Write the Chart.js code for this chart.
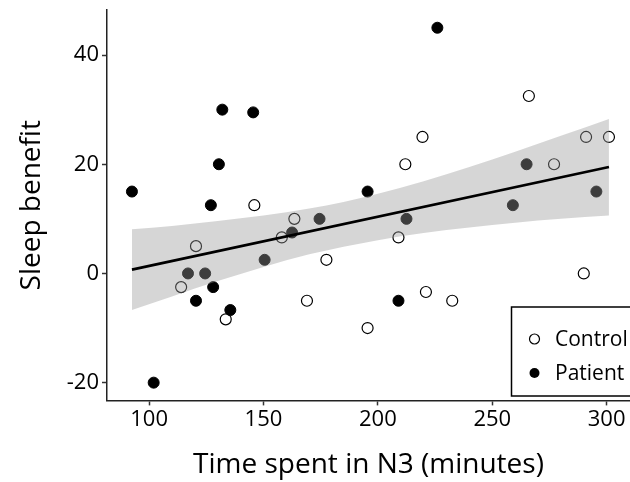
<!DOCTYPE html>
<html>
<head>
<meta charset="utf-8">
<script src="https://cdn.jsdelivr.net/npm/chart.js@4.4.1/dist/chart.umd.min.js"></script>
<style>
  html, body { margin: 0; padding: 0; background: #ffffff; overflow: hidden; }
  #wrap { position: relative; width: 630px; height: 482px; }
</style>
</head>
<body>
<div id="wrap"><canvas id="c" width="630" height="482"></canvas></div>
<script>
// ---- data ----
const controlX = [120.5, 146, 114, 133.5, 163.5, 158, 209, 177.5, 169, 221, 232.5, 195.5, 290, 219.5, 212, 266, 291, 301, 277];
const controlY = [5, 12.5, -2.5, -8.4, 10, 6.6, 6.6, 2.5, -5, -3.4, -5, -10, 0, 25, 20, 32.5, 25, 25, 20];
const patientX = [92.5, 132, 145.5, 130.5, 226, 195.5, 265, 295.5, 127, 150.5, 117, 124.5, 128, 120.5, 135.5, 102, 174.5, 162.5, 212.5, 209, 259];
const patientY = [15, 30, 29.5, 20, 45, 15, 20, 15, 12.5, 2.5, 0, 0, -2.5, -5, -6.7, -20, 10, 7.5, 10, -5, 12.5];
const fitX = [92.5, 301];
const fitY = [0.7, 19.5];
const bandX = [92.5, 110, 130, 150, 170, 185, 200, 220, 240, 260, 280, 301];
const bandLow = [-6.7, -4.2, -1.4, 1.2, 3.5, 4.9, 6.1, 7.4, 8.4, 9.3, 10.0, 10.6];
const bandHigh = [8.1, 8.7, 9.6, 10.6, 11.9, 13.1, 14.6, 16.9, 19.5, 22.3, 25.2, 28.3];
const xTicks = [100, 150, 200, 250, 300];
const yTicks = [-20, 0, 20, 40];
const seriesNames = ['Control', 'Patient'];

const FONT = "'Open Sans', 'Noto Sans', sans-serif";

const pts = (xs, ys) => xs.map((x, i) => ({ x: x, y: ys[i] }));

// stretch the plot panel to the right edge of the canvas, as in the reference
const fullWidthPlugin = {
  id: 'fullWidth',
  afterLayout(chart) {
    const a = chart.chartArea, sx = chart.scales.x;
    a.right = chart.width;
    a.width = a.right - a.left;
    sx.right = chart.width;
    sx.width = sx.right - sx.left;
    sx.configure();
  }
};

const legendPlugin = {
  id: 'boxLegend',
  afterDraw(chart) {
    const ctx = chart.ctx;
    ctx.save();
    ctx.strokeStyle = '#000';
    ctx.lineWidth = 1.5;
    ctx.strokeRect(511.5, 307, 130, 89);
    const rows = [339, 373];
    ctx.font = "21px " + FONT;
    ctx.textBaseline = 'middle';
    ctx.textAlign = 'left';
    rows.forEach((y, i) => {
      ctx.beginPath();
      ctx.arc(534.5, y, 5, 0, Math.PI * 2);
      if (i === 0) { ctx.lineWidth = 1.2; ctx.strokeStyle = '#000'; ctx.stroke(); }
      else { ctx.fillStyle = '#000'; ctx.fill(); }
      ctx.fillStyle = '#000';
      ctx.fillText(seriesNames[i], 555, y + 1);
    });
    ctx.restore();
  }
};

new Chart(document.getElementById('c'), {
  type: 'scatter',
  data: {
    datasets: [
      {
        label: seriesNames[0],
        data: pts(controlX, controlY),
        pointRadius: 5.5,
        pointBackgroundColor: 'rgba(0,0,0,0)',
        pointBorderColor: '#000',
        pointBorderWidth: 1.2,
        order: 2
      },
      {
        label: seriesNames[1],
        data: pts(patientX, patientY),
        pointRadius: 5.5,
        pointBackgroundColor: '#000',
        pointBorderColor: '#000',
        pointBorderWidth: 1,
        order: 2
      },
      {
        type: 'line',
        label: 'lower',
        data: pts(bandX, bandLow),
        borderWidth: 0,
        borderColor: 'rgba(0,0,0,0)',
        pointRadius: 0,
        fill: false,
        cubicInterpolationMode: 'monotone',
        order: 1
      },
      {
        type: 'line',
        label: 'upper',
        data: pts(bandX, bandHigh),
        borderWidth: 0,
        borderColor: 'rgba(0,0,0,0)',
        backgroundColor: 'rgba(153,153,153,0.4)',
        pointRadius: 0,
        fill: '-1',
        cubicInterpolationMode: 'monotone',
        order: 1
      },
      {
        type: 'line',
        label: 'fit',
        data: pts(fitX, fitY),
        borderWidth: 2.6,
        borderColor: '#000',
        pointRadius: 0,
        fill: false,
        order: 0
      }
    ]
  },
  options: {
    responsive: false,
    animation: false,
    events: [],
    layout: { padding: { top: 10, right: 0, left: 0, bottom: 0 } },
    plugins: {
      legend: { display: false },
      tooltip: { enabled: false }
    },
    scales: {
      x: {
        type: 'linear',
        min: 81.6,
        max: 310.2,
        afterBuildTicks: (s) => { s.ticks = xTicks.map(v => ({ value: v })); },
        afterFit: (s) => { s.height = 81.6; s.paddingLeft = 0; s.paddingRight = 0; },
        grid: { drawOnChartArea: false, tickLength: 5, tickColor: '#333', tickWidth: 1.5 },
        border: { color: '#222', width: 1.5 },
        ticks: { color: '#000', font: { family: FONT, size: 22 }, padding: 1, maxRotation: 0 },
        title: { display: true, text: 'Time spent in N3 (minutes)', color: '#000', font: { family: FONT, size: 28 }, padding: { top: 0, bottom: 0 } }
      },
      y: {
        type: 'linear',
        min: -23.25,
        max: 48.25,
        afterBuildTicks: (s) => { s.ticks = yTicks.map(v => ({ value: v })); },
        afterFit: (s) => { s.width = 107; s.paddingTop = 0; s.paddingBottom = 0; },
        grid: { drawOnChartArea: false, tickLength: 5, tickColor: '#333', tickWidth: 1.5 },
        border: { color: '#222', width: 1.5 },
        ticks: { color: '#000', font: { family: FONT, size: 22 }, padding: 3 },
        title: { display: true, text: 'Sleep benefit', color: '#000', font: { family: FONT, size: 28 }, padding: { top: 15, bottom: 0 } }
      }
    }
  },
  plugins: [fullWidthPlugin, legendPlugin]
});
</script>
</body>
</html>
